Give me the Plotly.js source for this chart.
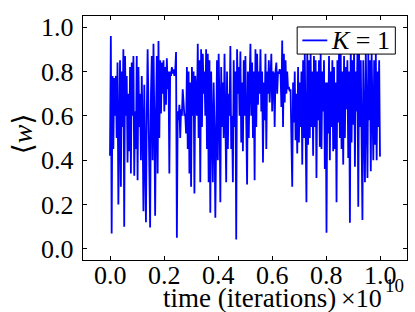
<!DOCTYPE html>
<html>
<head>
<meta charset="utf-8">
<script src="https://cdn.plot.ly/plotly-3.0.1.min.js"></script>
<style>html,body{margin:0;padding:0;background:#fff;}#chart{width:415px;height:312px;}</style>
</head>
<body>
<div id="chart"></div>
<script>
const w = [
0.42,0.96,0.07,0.78,0.45,0.77,0.60,0.78,0.50,0.84,0.20,0.70,
0.85,0.28,0.80,0.55,0.90,0.10,0.87,0.60,0.78,0.39,0.70,0.44,
0.82,0.34,0.84,0.60,0.87,0.33,0.62,0.45,0.87,0.31,0.82,0.55,
0.70,0.40,0.78,0.55,0.17,0.74,0.50,0.12,0.60,0.90,0.65,0.20,
0.096,0.70,0.87,0.40,0.925,0.60,0.15,0.60,0.87,0.34,0.937,0.50,
0.85,0.61,0.84,0.70,0.85,0.62,0.82,0.65,0.86,0.72,0.80,0.34,
0.80,0.78,0.82,0.79,0.81,0.78,0.80,0.888,0.05,0.62,0.58,0.65,
0.50,0.63,0.60,0.72,0.62,0.60,0.61,0.52,0.82,0.45,0.80,0.34,
0.75,0.28,0.82,0.60,0.80,0.25,0.78,0.70,0.60,0.925,0.50,0.85,
0.30,0.90,0.55,0.88,0.70,0.80,0.60,0.90,0.45,0.88,0.30,0.85,
0.163,0.80,0.50,0.30,0.75,0.55,0.14,0.60,0.85,0.40,0.88,0.65,
0.21,0.82,0.55,0.75,0.50,0.88,0.60,0.30,0.80,0.45,0.70,0.60,
0.915,0.45,0.60,0.30,0.85,0.55,0.80,0.042,0.90,0.70,0.82,0.60,
0.89,0.48,0.75,0.44,0.85,0.60,0.87,0.55,0.29,0.80,0.50,0.75,
0.925,0.60,0.84,0.50,0.80,0.31,0.90,0.55,0.88,0.65,0.80,0.70,
0.90,0.62,0.80,0.39,0.75,0.58,0.88,0.45,0.80,0.70,0.85,0.66,
0.78,0.88,0.62,0.80,0.79,0.55,0.80,0.84,0.70,0.80,0.79,0.81,
0.80,0.64,0.94,0.55,0.88,0.66,0.85,0.70,0.80,0.72,0.73,0.71,
0.72,0.52,0.28,0.75,0.57,0.80,0.49,0.70,0.43,0.82,0.48,0.75,
0.55,0.80,0.38,0.85,0.50,0.88,0.64,0.21,0.90,0.47,0.85,0.50,
0.88,0.55,0.80,0.42,0.87,0.55,0.85,0.32,0.80,0.58,0.85,0.46,
0.88,0.45,0.80,0.62,0.85,0.36,0.75,0.073,0.75,0.52,0.87,0.40,
0.80,0.55,0.85,0.44,0.82,0.45,0.75,0.21,0.85,0.57,0.88,0.50,
0.88,0.45,0.80,0.38,0.87,0.50,0.82,0.63,0.85,0.41,0.80,0.118,
0.925,0.48,0.85,0.56,0.90,0.37,0.80,0.62,0.88,0.19,0.88,0.55,
0.85,0.50,0.13,0.85,0.44,0.30,0.90,0.50,0.32,0.88,0.58,0.85,
0.35,0.88,0.55,0.40,0.85,0.47,0.88,0.40,0.80,0.55,0.85,0.416
];
const tStart = 0.0, tEnd = 1.0; // time span, units of 1e10 iterations
const time = w.map((_, i) => tStart + (tEnd - tStart) * i / (w.length - 1));
const xTicks = [0.0, 0.2, 0.4, 0.6, 0.8, 1.0];
const yTicks = [0.0, 0.2, 0.4, 0.6, 0.8, 1.0];
const seriesName = '<i>K</i> = 1';
const xLabel = 'time (iterations)';
const xOffsetBase = '×10';
const xOffsetExp = '10';
const yLabel = '⟨<i>w</i>⟩';
const lineColor = '#0000ff';

const serif = "'Liberation Serif', 'DejaVu Serif', serif";
const axisCommon = {
  showgrid: false, zeroline: false,
  showline: true, linecolor: '#000', linewidth: 1.3,
  mirror: 'allticks', ticks: 'inside', ticklen: 4, tickwidth: 1, tickcolor: '#000',
  tickfont: {family: serif, size: 26, color: '#000'}
};
const data = [{
  x: time, y: w, type: 'scatter', mode: 'lines', name: seriesName, showlegend: false,
  line: {color: lineColor, width: 1.8}
}];
const xTickAnnotations = xTicks.map(v => ({
  xref: 'x', yref: 'paper', x: v, y: (260 - 275) / 244, xanchor: 'center', yanchor: 'middle',
  text: v.toFixed(1), showarrow: false, font: {family: serif, size: 26, color: '#000'}
}));
const layout = {
  width: 415, height: 312,
  margin: {l: 83, r: 8, t: 16, b: 52},
  paper_bgcolor: '#fff', plot_bgcolor: '#fff',
  showlegend: false,
  xaxis: Object.assign({}, axisCommon, {
    range: [-0.1, 1.1], tickvals: xTicks, showticklabels: false
  }),
  yaxis: Object.assign({}, axisCommon, {
    range: [-0.05, 1.05], tickvals: yTicks, ticktext: yTicks.map(v => v.toFixed(1)),
    ticklabelstandoff: 3
  }),
  shapes: [
    {type: 'rect', xref: 'paper', yref: 'paper', x0: 0.661, x1: 0.964, y0: 0.844, y1: 0.955,
     fillcolor: '#fff', line: {color: '#000', width: 1}, layer: 'above'},
    {type: 'line', xref: 'paper', yref: 'paper', x0: 0.677, x1: 0.754, y0: 0.9, y1: 0.9,
     line: {color: lineColor, width: 1.8}, layer: 'above'}
  ],
  annotations: xTickAnnotations.concat([
    {xref: 'paper', yref: 'paper', x: 0.76, y: 0.9, xanchor: 'left', yanchor: 'middle',
     text: seriesName, showarrow: false, font: {family: serif, size: 26, color: '#000'}},
    {xref: 'paper', yref: 'paper', x: 0.513, y: (260 - 298) / 244, xanchor: 'center', yanchor: 'middle',
     text: xLabel, showarrow: false, font: {family: serif, size: 27, color: '#000'}},
    {xref: 'paper', yref: 'paper', x: (384 - 83) / 323.7, y: (260 - 298) / 244, xanchor: 'right', yanchor: 'middle',
     text: xOffsetBase, showarrow: false, font: {family: serif, size: 26, color: '#000'}},
    {xref: 'paper', yref: 'paper', x: (383 - 83) / 323.7, y: (260 - 285) / 244, xanchor: 'left', yanchor: 'middle',
     text: xOffsetExp, showarrow: false, font: {family: serif, size: 19, color: '#000'}},
    {xref: 'paper', yref: 'paper', x: -0.188, y: 0.516, xanchor: 'center', yanchor: 'middle',
     text: yLabel, textangle: -90, showarrow: false, font: {family: serif, size: 28, color: '#000'}}
  ])
};
Plotly.newPlot('chart', data, layout, {displayModeBar: false, staticPlot: true});
</script>
</body>
</html>
